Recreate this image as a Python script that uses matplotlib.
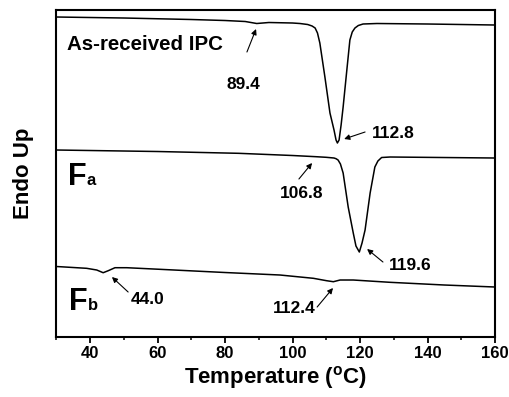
import matplotlib
matplotlib.use('Agg')
import matplotlib.pyplot as plt

plt.rcParams['font.family'] = ['Liberation Sans', 'DejaVu Sans']
plt.rcParams['font.weight'] = 'bold'

# DSC traces (temperature in C, heat flow in arbitrary units, endo up)
t_ipc = [30, 50, 70, 80, 86, 89.4, 93, 100, 102.2, 104.5, 105.8, 106.7, 107.4, 108.1, 109.6, 111.1,
         112.3, 112.9, 113.3, 113.8, 114.4, 115.0, 116.1, 117.0, 117.7, 118.5, 119.5, 120.9,
         125, 140, 160]
hf_ipc = [320, 319, 317.5, 316.5, 315.5, 313.5, 314.5, 314, 313.5, 312.5, 311, 309, 304, 294, 260,
          224, 207, 197, 194, 197, 212, 230, 267, 297, 305, 309, 311.5, 313,
          313.5, 313, 312]

t_fa = [30, 60, 84, 100, 107, 110, 112.3, 112.9, 113.5, 114.2, 115.0, 116.5, 118.0, 118.8, 119.8,
        120.6, 121.5, 123.0, 124.4, 125.3, 126.4, 128.9, 160]
hf_fa = [187, 185.5, 183.7, 181.5, 180.3, 179.7, 179, 178.3, 177, 173, 164, 130, 104, 91, 85,
         94, 107, 144, 170, 176, 179.5, 180, 179]

t_fb = [30, 31.1, 39.0, 42.0, 43.9, 45.4, 47.4, 50.9, 60.7, 80, 96.3, 106.2, 110.1, 112.1,
        114.1, 118.0, 128.9, 145, 160]
hf_fb = [70.5, 70.3, 68.7, 67, 64.3, 66.3, 69.3, 69.3, 67.7, 64.5, 62, 58.7, 56.3, 55.3,
         57, 57, 54.7, 52, 50]

peak_labels = ['89.4', '112.8', '106.8', '119.6', '44.0', '112.4']

fig = plt.figure(figsize=(5.1, 3.97), dpi=100)
ax = fig.add_axes([0.1103, 0.1511, 0.8603, 0.8237])

for t, hf in [(t_ipc, hf_ipc), (t_fa, hf_fa), (t_fb, hf_fb)]:
    ax.plot(t, hf, color='black', lw=1.1)

# arrows: (tip, tail) and text anchor (x, baseline, ha)
arrows = [((89.2, 308), (86.5, 285)), ((115.3, 198), (121.5, 205)),
          ((105.8, 174), (101.9, 158)), ((122.1, 88), (126.8, 75)),
          ((46.5, 60), (51.3, 45)), ((112.0, 49), (107.3, 30))]
texts = [(85.3, 248, 'center'), (123.5, 199, 'left'), (96.3, 139, 'left'),
         (128.6, 67, 'left'), (52.1, 33, 'left'), (94.2, 24, 'left')]
for lab, (tip, tail), (tx, ty, ha) in zip(peak_labels, arrows, texts):
    ax.annotate('', xy=tip, xytext=tail,
                arrowprops=dict(arrowstyle='-|>', color='black', lw=0.8,
                                mutation_scale=8, shrinkA=0, shrinkB=0))
    ax.text(tx, ty, lab, fontsize=12.5, fontweight='bold', ha=ha, va='baseline')

ax.text(33.3, 287, 'As-received IPC', fontsize=14.8, fontweight='bold', va='baseline')
for sub, (fx, fy) in [('a', (33.5, 152)), ('b', (33.8, 27))]:
    ax.text(fx, fy, 'F', fontsize=22, fontweight='bold', va='baseline')
    ax.annotate(sub, xy=(fx, fy), xytext=(13.5, 0), textcoords='offset points',
                fontsize=12, fontweight='bold', va='baseline')

ax.set_xlim(30, 160)
ax.set_ylim(0, 327)
ax.set_xticks([40, 60, 80, 100, 120, 140, 160])
ax.set_xticks([30, 50, 70, 90, 110, 130, 150], minor=True)
ax.set_yticks([])
ax.tick_params(axis='x', which='major', direction='out', length=4.5, width=1.3,
               labelsize=12, pad=2)
ax.tick_params(axis='x', which='minor', direction='out', length=2.5, width=1.1)
for lab in ax.get_xticklabels():
    lab.set_fontweight('bold')
for sp in ax.spines.values():
    sp.set_linewidth(1.5)

ax.set_xlabel('Temperature ($^\\mathregular{o}$C)', fontsize=16, fontweight='bold', labelpad=2)
ax.set_ylabel('Endo Up', fontsize=16, fontweight='bold', labelpad=16)

fig.savefig('out.png', dpi=100)
